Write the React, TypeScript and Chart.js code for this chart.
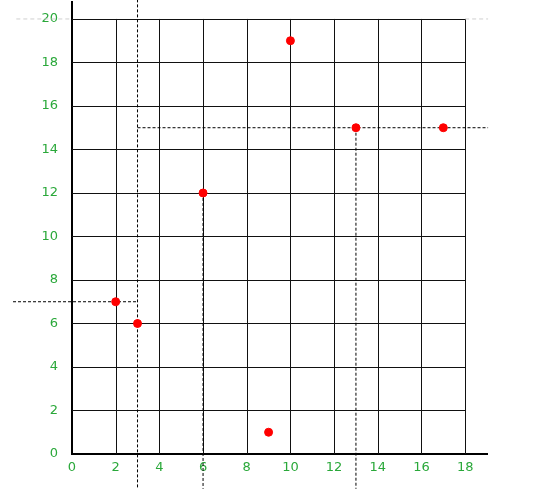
import React, { useEffect, useRef } from "react";
import { Chart, registerables } from "chart.js";

Chart.register(...registerables);

// Data points
const pointsX = [2, 3, 6, 9, 10, 13, 17];
const pointsY = [7, 6, 12, 1, 19, 15, 15];

// Axis ranges and tick labels
const xMin = 0;
const xMax = 19;
const yMin = 0;
const yMax = 20.78;
const xTicks = [0, 2, 4, 6, 8, 10, 12, 14, 16, 18];
const yTicks = [0, 2, 4, 6, 8, 10, 12, 14, 16, 18, 20];

// Bounded grid (lines drawn from 0 to gridXEnd / gridYEnd)
const gridXValues = [2, 4, 6, 8, 10, 12, 14, 16, 18];
const gridYValues = [2, 4, 6, 8, 10, 12, 14, 16, 18, 20];
const gridXEnd = 18;
const gridYEnd = 20;

// Dashed guide segments: [x1, y1, x2, y2]
const guideLines = [
  [3, 20.9, 3, -1.6],
  [-2.7, 7, 3, 7],
  [6, 12, 6, -1.6],
  [13, 15, 13, -1.6],
  [3, 15, 19.05, 15],
];
// Faint dashed segments at y = 20
const faintLines = [
  [-2.55, 20, 0, 20],
  [18, 20, 19.05, 20],
];

const boundedGrid = {
  id: "boundedGrid",
  beforeDatasetsDraw(chart: any) {
    const { ctx, scales } = chart;
    const xs = scales.x;
    const ys = scales.y;
    ctx.save();
    ctx.strokeStyle = "#111";
    ctx.lineWidth = 1;
    gridXValues.forEach((v) => {
      const px = Math.round(xs.getPixelForValue(v)) + 0.5;
      ctx.beginPath();
      ctx.moveTo(px, ys.getPixelForValue(0));
      ctx.lineTo(px, ys.getPixelForValue(gridYEnd));
      ctx.stroke();
    });
    gridYValues.forEach((v) => {
      const py = Math.round(ys.getPixelForValue(v)) + 0.5;
      ctx.beginPath();
      ctx.moveTo(xs.getPixelForValue(0), py);
      ctx.lineTo(xs.getPixelForValue(gridXEnd), py);
      ctx.stroke();
    });
    ctx.restore();
  },
};

export default function App() {
  const ref = useRef<HTMLCanvasElement | null>(null);

  useEffect(() => {
    document.body.style.margin = "0";
    if (!ref.current) return;
    const tickFont = { family: "DejaVu Sans", size: 13 };
    const datasets: any[] = [
      {
        label: "points",
        data: pointsX.map((x, i) => ({ x, y: pointsY[i] })),
        backgroundColor: "#ff0000",
        borderColor: "#ff0000",
        pointRadius: 4,
        pointHoverRadius: 4,
        showLine: false,
        clip: false,
      },
      ...guideLines.map((s, i) => ({
        label: "guide" + i,
        data: [
          { x: s[0], y: s[1] },
          { x: s[2], y: s[3] },
        ],
        showLine: true,
        borderColor: "#000",
        borderWidth: 1,
        borderDash: [3, 2],
        pointRadius: 0,
        clip: false,
      })),
      ...faintLines.map((s, i) => ({
        label: "faint" + i,
        data: [
          { x: s[0], y: s[1] },
          { x: s[2], y: s[3] },
        ],
        showLine: true,
        borderColor: "#cfcfcf",
        borderWidth: 1,
        borderDash: [4, 3],
        pointRadius: 0,
        clip: false,
      })),
    ];

    const chart = new Chart(ref.current, {
      type: "scatter",
      data: { datasets },
      plugins: [boundedGrid],
      options: {
        animation: false,
        responsive: false,
        layout: { autoPadding: false, padding: { top: 2, right: 57, left: 0, bottom: 0 } },
        plugins: { legend: { display: false }, tooltip: { enabled: false } },
        scales: {
          x: {
            type: "linear",
            min: xMin,
            max: xMax,
            afterBuildTicks: (s: any) => {
              s.ticks = xTicks.map((v) => ({ value: v }));
            },
            afterFit: (s: any) => {
              s.height = 40;
            },
            grid: { color: "rgba(0,0,0,0)", drawTicks: false },
            border: { display: true, color: "#000", width: 2 },
            ticks: { color: "#2aa83a", font: tickFont, padding: 6, maxRotation: 0 },
          },
          y: {
            type: "linear",
            min: yMin,
            max: yMax,
            afterBuildTicks: (s: any) => {
              s.ticks = yTicks.map((v) => ({ value: v }));
            },
            afterFit: (s: any) => {
              s.width = 72;
              s.paddingTop = 0;
            },
            grid: { color: "rgba(0,0,0,0)", drawTicks: false },
            border: { display: true, color: "#000", width: 2 },
            ticks: { color: "#2aa83a", font: tickFont, padding: 14 },
          },
        },
      },
    });
    return () => chart.destroy();
  }, []);

  return (
    <canvas
      ref={ref}
      width={544}
      height={494}
      style={{ display: "block", width: 544, height: 494 }}
    />
  );
}
